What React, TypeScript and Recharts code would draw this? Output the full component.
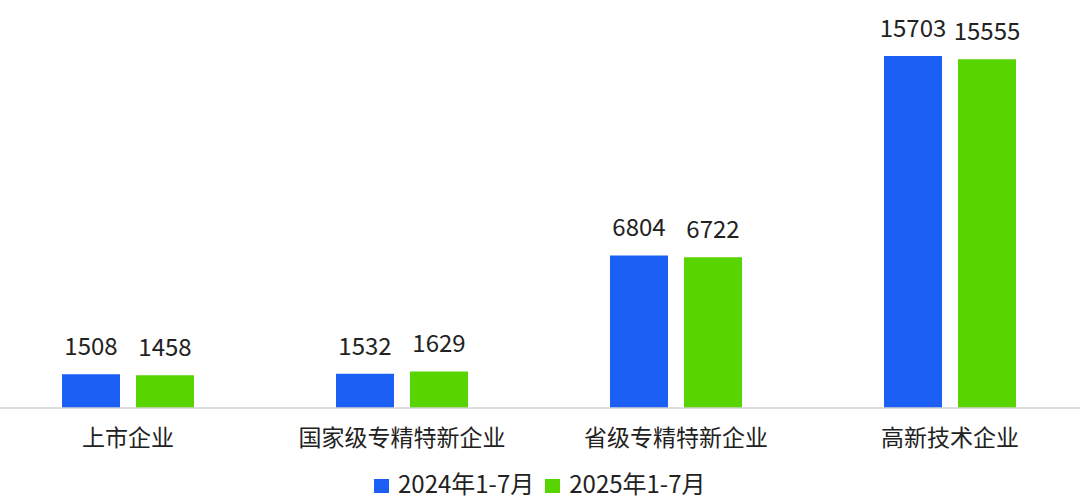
import { BarChart, Bar, XAxis, YAxis, LabelList } from 'recharts'

const categories = ['上市企业', '国家级专精特新企业', '省级专精特新企业', '高新技术企业']
const series2024 = [1508, 1532, 6804, 15703]
const series2025 = [1458, 1629, 6722, 15555]
const seriesNames = ['2024年1-7月', '2025年1-7月']

const BLUE = '#1b5ff4'
const GREEN = '#58d500'
const FONT = '"Noto Sans CJK SC", "Noto Sans", sans-serif'

const data = categories.map((name, i) => ({
    name,
    y2024: series2024[i],
    y2025: series2025[i],
}))

const LegendItem = ({ color, label }: { color: string; label: string }) => (
    <div style={{ display: 'flex', alignItems: 'flex-start', marginRight: 11 }}>
        <span
            style={{ display: 'inline-block', width: 15, height: 14, background: color, marginRight: 9, marginTop: 8 }}
        />
        <span>{label}</span>
    </div>
)

export default function App() {
    return (
        <div
            style={{
                position: 'absolute',
                left: 0,
                top: 0,
                width: 1080,
                height: 498,
                overflow: 'hidden',
                background: '#fff',
                fontFamily: FONT,
                color: '#222',
            }}
        >
            <div style={{ position: 'absolute', left: -9, top: 0 }}>
                <BarChart
                    width={1096}
                    height={498}
                    data={data}
                    margin={{ top: 56, right: 0, bottom: 30, left: 0 }}
                    barSize={58}
                    barGap={16}
                >
                    <XAxis
                        dataKey="name"
                        height={60}
                        interval={0}
                        axisLine={{ stroke: '#d3d3d3', strokeWidth: 1.5 }}
                        tickLine={false}
                        tickSize={0}
                        tickMargin={22}
                        tick={{ fontSize: 23, fill: '#222' }}
                    />
                    <YAxis hide domain={[0, 15703]} />
                    <Bar dataKey="y2024" name={seriesNames[0]} fill={BLUE} isAnimationActive={false}>
                        <LabelList dataKey="y2024" position="top" offset={19} fill="#222" fontSize={24} />
                    </Bar>
                    <Bar dataKey="y2025" name={seriesNames[1]} fill={GREEN} isAnimationActive={false}>
                        <LabelList dataKey="y2025" position="top" offset={19} fill="#222" fontSize={24} />
                    </Bar>
                </BarChart>
            </div>
            <div
                style={{
                    position: 'absolute',
                    left: 374,
                    top: 471,
                    display: 'flex',
                    fontSize: 24,
                    lineHeight: '24px',
                }}
            >
                <LegendItem color={BLUE} label={seriesNames[0]} />
                <LegendItem color={GREEN} label={seriesNames[1]} />
            </div>
        </div>
    )
}
